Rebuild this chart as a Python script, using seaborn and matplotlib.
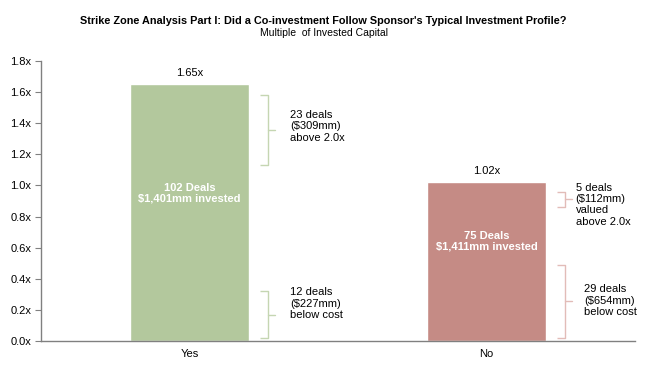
import pandas as pd
import numpy as np
import matplotlib
matplotlib.use("Agg")
import matplotlib.pyplot as plt
import seaborn as sns

categories = ["Yes", "No"]
moic = [1.65, 1.02]
bar_colors = ["#b3c89d", "#c58b85"]
brace_colors = ["#c5d6b2", "#e2bcb8"]
bar_labels = ["102 Deals\n$1,401mm invested", "75 Deals\n$1,411mm invested"]
bar_label_y = [0.95, 0.64]
value_labels = ["1.65x", "1.02x"]

# brace spans (bottom, top) and texts per category
upper_spans = [(1.13, 1.58), (0.86, 0.96)]
upper_texts = ["23 deals\n($309mm)\nabove 2.0x", "5 deals\n($112mm)\nvalued\nabove 2.0x"]
lower_spans = [(0.02, 0.32), (0.02, 0.49)]
lower_texts = ["12 deals\n($227mm)\nbelow cost", "29 deals\n($654mm)\nbelow cost"]
upper_text_y = [1.38, 0.875]
lower_text_y = [0.24, 0.26]

df = pd.DataFrame({"cat": categories, "moic": moic})

sns.set_style("white")
plt.rcParams["font.family"] = ["Liberation Sans", "DejaVu Sans"]
plt.rcParams["text.color"] = "black"
plt.rcParams["xtick.color"] = "black"
plt.rcParams["ytick.color"] = "black"

fig = plt.figure(figsize=(6.47, 3.75), dpi=100)
ax = fig.add_axes([0.0634, 0.0907, 0.918, 0.7466])
sns.barplot(data=df, x="cat", y="moic", hue="cat", palette=bar_colors,
            width=0.4, legend=False, ax=ax, saturation=1)

ax.set_xlim(-0.5, 1.5)
ax.set_ylim(0, 1.8)
ax.set_yticks(np.arange(0, 1.81, 0.2))
ax.set_yticklabels([f"{v:.1f}x" for v in np.arange(0, 1.81, 0.2)], fontsize=8)
ax.tick_params(axis="x", labelsize=8, length=0, pad=6)
ax.tick_params(axis="y", left=True, length=4, color="#808080", width=0.8, pad=3)
ax.set_xlabel("")
ax.set_ylabel("")
for s in ["top", "right"]:
    ax.spines[s].set_visible(False)
for s in ["left", "bottom"]:
    ax.spines[s].set_color("#808080")
    ax.spines[s].set_linewidth(1)


def brace(x0, lo, hi, color):
    # draw a "}" shaped brace in data coords
    w = 0.027
    tip = 0.024
    mid = (lo + hi) / 2
    ax.plot([x0, x0 + w, x0 + w], [hi, hi, mid], color=color, lw=1, solid_capstyle="butt")
    ax.plot([x0, x0 + w, x0 + w], [lo, lo, mid], color=color, lw=1, solid_capstyle="butt")
    ax.plot([x0 + w, x0 + w + tip], [mid, mid], color=color, lw=1)


for i in range(len(categories)):
    ax.text(i, moic[i] + 0.04, value_labels[i], ha="center", va="bottom", fontsize=8)
    ax.text(i, bar_label_y[i], bar_labels[i], ha="center", va="center", fontsize=8,
            color="white", fontweight="bold", linespacing=1.1)
    bx = i + 0.237
    brace(bx, upper_spans[i][0], upper_spans[i][1], brace_colors[i])
    brace(bx, lower_spans[i][0], lower_spans[i][1], brace_colors[i])

ax.text(0.34, upper_text_y[0], upper_texts[0], ha="left", va="center", fontsize=8, linespacing=1.15)
ax.text(0.34, lower_text_y[0], lower_texts[0], ha="left", va="center", fontsize=8, linespacing=1.15)
ax.text(1.30, upper_text_y[1], upper_texts[1], ha="left", va="center", fontsize=8, linespacing=1.15)
ax.text(1.33, lower_text_y[1], lower_texts[1], ha="left", va="center", fontsize=8, linespacing=1.15)

fig.text(0.5, 0.943, "Strike Zone Analysis Part I: Did a Co-investment Follow Sponsor's Typical Investment Profile?",
         ha="center", va="center", fontsize=7.8, fontweight="bold")
fig.text(0.5, 0.912, "Multiple  of Invested Capital", ha="center", va="center", fontsize=7.5)

fig.savefig("out.png", dpi=100)
